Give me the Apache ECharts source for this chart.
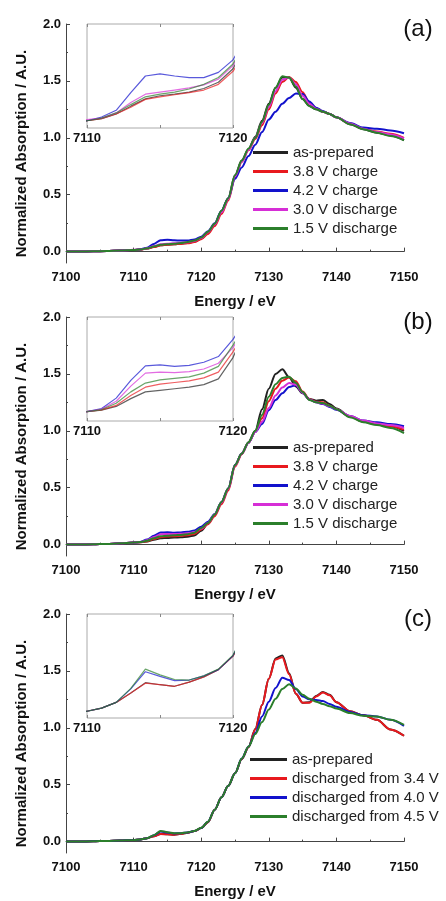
<!DOCTYPE html>
<html>
<head>
<meta charset="utf-8">
<script src="https://cdn.jsdelivr.net/npm/echarts@6/dist/echarts.min.js"></script>
<style>
  html, body { margin: 0; padding: 0; background: #fff; }
  #main { width: 446px; height: 901px; }
</style>
</head>
<body>
<div id="main"></div>
<script>
// energies (eV) shared by every spectrum
var energy = [7100, 7102, 7104, 7106, 7108,
  7110, 7111, 7112, 7113, 7114, 7115, 7116, 7117, 7118, 7119, 7120,
  7121, 7122, 7123, 7124, 7125, 7126, 7127, 7128, 7129, 7130,
  7131, 7132, 7133, 7134, 7135, 7136, 7137, 7138, 7139, 7140,
  7142, 7144, 7146, 7148, 7150];

// (a)
var aBlack = [0, 0.001, 0.003, 0.005, 0.009, 0.014, 0.018, 0.027, 0.042, 0.056, 0.062, 0.065, 0.069, 0.076, 0.088, 0.114,
  0.165, 0.24, 0.355, 0.47, 0.67, 0.80, 0.90, 1.01, 1.15, 1.30, 1.44, 1.53, 1.53, 1.44, 1.34, 1.28, 1.25, 1.23, 1.21, 1.18,
  1.12, 1.075, 1.045, 1.02, 0.98];
var aRed = [0, 0.001, 0.003, 0.005, 0.009, 0.014, 0.018, 0.027, 0.040, 0.055, 0.060, 0.064, 0.068, 0.073, 0.084, 0.109,
  0.155, 0.225, 0.33, 0.45, 0.65, 0.79, 0.89, 0.99, 1.11, 1.25, 1.39, 1.49, 1.535, 1.49, 1.40, 1.31, 1.26, 1.23, 1.21, 1.18,
  1.125, 1.08, 1.055, 1.035, 1.0];
var aBlue = [0, 0.001, 0.003, 0.005, 0.009, 0.014, 0.021, 0.034, 0.068, 0.100, 0.104, 0.100, 0.097, 0.097, 0.107, 0.131,
  0.18, 0.25, 0.36, 0.47, 0.64, 0.74, 0.84, 0.94, 1.05, 1.16, 1.23, 1.30, 1.35, 1.39, 1.385, 1.32, 1.265, 1.235, 1.21, 1.18,
  1.13, 1.09, 1.08, 1.065, 1.04];
var aPink = [0, 0.001, 0.003, 0.005, 0.009, 0.016, 0.019, 0.029, 0.049, 0.065, 0.069, 0.073, 0.077, 0.083, 0.094, 0.120,
  0.17, 0.24, 0.345, 0.46, 0.66, 0.79, 0.895, 1.0, 1.13, 1.27, 1.41, 1.51, 1.53, 1.47, 1.37, 1.30, 1.255, 1.23, 1.21, 1.18,
  1.125, 1.08, 1.05, 1.03, 0.995];
var aGreen = [0, 0.001, 0.003, 0.005, 0.009, 0.014, 0.019, 0.029, 0.045, 0.060, 0.065, 0.069, 0.075, 0.084, 0.097, 0.123,
  0.175, 0.245, 0.36, 0.47, 0.67, 0.80, 0.905, 1.0, 1.14, 1.29, 1.44, 1.54, 1.53, 1.45, 1.34, 1.28, 1.25, 1.23, 1.21, 1.18,
  1.12, 1.075, 1.045, 1.015, 0.978];

// (b)
var bBlack = [0, 0.001, 0.003, 0.006, 0.011, 0.018, 0.021, 0.028, 0.043, 0.056, 0.059, 0.062, 0.065, 0.070, 0.081, 0.122,
  0.185, 0.26, 0.37, 0.49, 0.70, 0.80, 0.90, 1.0, 1.19, 1.37, 1.50, 1.54, 1.47, 1.39, 1.33, 1.28, 1.265, 1.27, 1.235, 1.195,
  1.125, 1.08, 1.06, 1.04, 1.0];
var bRed = [0, 0.001, 0.003, 0.006, 0.011, 0.018, 0.0215, 0.030, 0.049, 0.065, 0.071, 0.074, 0.077, 0.083, 0.094, 0.133,
  0.18, 0.25, 0.355, 0.475, 0.685, 0.795, 0.895, 0.99, 1.11, 1.26, 1.37, 1.44, 1.468, 1.435, 1.345, 1.28, 1.255, 1.25, 1.22, 1.19,
  1.125, 1.08, 1.055, 1.04, 1.01];
var bBlue = [0, 0.001, 0.003, 0.006, 0.011, 0.018, 0.024, 0.044, 0.078, 0.106, 0.108, 0.105, 0.107, 0.113, 0.124, 0.157,
  0.20, 0.27, 0.375, 0.495, 0.70, 0.80, 0.895, 0.99, 1.06, 1.18, 1.27, 1.33, 1.385, 1.40, 1.335, 1.275, 1.25, 1.235, 1.21, 1.185,
  1.13, 1.09, 1.075, 1.06, 1.04];
var bPink = [0, 0.001, 0.003, 0.006, 0.011, 0.018, 0.023, 0.038, 0.067, 0.092, 0.094, 0.093, 0.095, 0.100, 0.111, 0.141,
  0.19, 0.265, 0.37, 0.49, 0.695, 0.80, 0.895, 0.99, 1.08, 1.20, 1.31, 1.38, 1.42, 1.405, 1.335, 1.275, 1.25, 1.24, 1.215, 1.19,
  1.13, 1.09, 1.065, 1.05, 1.025];
var bGreen = [0, 0.001, 0.003, 0.006, 0.011, 0.018, 0.022, 0.034, 0.056, 0.073, 0.079, 0.082, 0.085, 0.092, 0.105, 0.146,
  0.19, 0.265, 0.375, 0.495, 0.70, 0.80, 0.90, 1.0, 1.14, 1.30, 1.41, 1.465, 1.475, 1.42, 1.34, 1.27, 1.25, 1.245, 1.22, 1.19,
  1.12, 1.075, 1.05, 1.025, 0.98];

// (c)
var cBlack = [0, 0.001, 0.003, 0.006, 0.009, 0.013, 0.019, 0.030, 0.048, 0.068, 0.064, 0.061, 0.069, 0.079, 0.093, 0.119,
  0.17, 0.28, 0.39, 0.49, 0.60, 0.725, 0.83, 0.99, 1.20, 1.43, 1.61, 1.635, 1.48, 1.30, 1.22, 1.225, 1.28, 1.315, 1.29, 1.225,
  1.145, 1.11, 1.07, 0.985, 0.93];
var cRed = [0, 0.001, 0.003, 0.006, 0.009, 0.013, 0.019, 0.030, 0.048, 0.067, 0.064, 0.061, 0.069, 0.079, 0.093, 0.119,
  0.17, 0.28, 0.39, 0.49, 0.60, 0.725, 0.83, 0.985, 1.20, 1.43, 1.60, 1.62, 1.47, 1.30, 1.22, 1.22, 1.275, 1.31, 1.285, 1.225,
  1.145, 1.11, 1.07, 0.985, 0.93];
var cBlue = [0, 0.001, 0.003, 0.006, 0.009, 0.013, 0.019, 0.030, 0.056, 0.089, 0.080, 0.072, 0.073, 0.081, 0.093, 0.120,
  0.175, 0.28, 0.39, 0.49, 0.60, 0.73, 0.835, 0.955, 1.10, 1.23, 1.35, 1.44, 1.42, 1.34, 1.275, 1.25, 1.245, 1.235, 1.21, 1.185,
  1.14, 1.11, 1.10, 1.07, 1.017];
var cGreen = [0, 0.001, 0.003, 0.006, 0.009, 0.013, 0.019, 0.030, 0.057, 0.094, 0.083, 0.074, 0.073, 0.081, 0.094, 0.121,
  0.175, 0.28, 0.39, 0.49, 0.60, 0.73, 0.835, 0.945, 1.05, 1.16, 1.255, 1.34, 1.383, 1.345, 1.29, 1.255, 1.23, 1.21, 1.19, 1.17,
  1.13, 1.105, 1.10, 1.07, 1.026];

var abNames = ['as-prepared', '3.8 V charge', '4.2 V charge', '3.0 V discharge', '1.5 V discharge'];
var cNames = ['as-prepared', 'discharged from 3.4 V', 'discharged from 4.0 V', 'discharged from 4.5 V'];
var yTicks = [0, 0.5, 1, 1.5, 2];
var yMinorTicks = [0.25, 0.75, 1.25, 1.75];

var abColors = ['#222222', '#e8191e', '#1212cc', '#d62ed6', '#2b7f2b'];
var cColors = ['#222222', '#e8191e', '#1212cc', '#2b7f2b'];

var panels = [
  { tag: '(a)', top: 24, names: abNames, colors: abColors, values: [aBlack, aRed, aBlue, aPink, aGreen], legLeft: 253, legTop: 145, legW: 35 },
  { tag: '(b)', top: 317, names: abNames, colors: abColors, values: [bBlack, bRed, bBlue, bPink, bGreen], legLeft: 253, legTop: 440, legW: 35 },
  { tag: '(c)', top: 614, names: cNames, colors: cColors, values: [cBlack, cRed, cBlue, cGreen], legLeft: 250, legTop: 752, legW: 37 }
];

var FONT = 'Liberation Sans, Arial, sans-serif';
var AXIS_COLOR = '#444';
var plain = function (v) { return String(v); };

var grid = [], xAxis = [], yAxis = [], series = [], legend = [], graphic = [];

panels.forEach(function (p) {
  var gMain = grid.length;
  grid.push({ left: 66, top: p.top, width: 338, height: 239 });
  var gIn = grid.length;
  grid.push({ left: 87, top: p.top, width: 146, height: 104, show: true, borderColor: '#aaa', borderWidth: 1, backgroundColor: '#fff' });

  var xMain = xAxis.length;
  xAxis.push({
    type: 'value', gridIndex: gMain, min: 7100, max: 7150, interval: 10,
    name: 'Energy / eV', nameLocation: 'middle', nameGap: 31,
    nameTextStyle: { fontFamily: FONT, fontWeight: 'bold', fontSize: 15, color: '#111' },
    axisLine: { lineStyle: { color: AXIS_COLOR, width: 1 } },
    axisTick: { inside: true, length: 4, lineStyle: { color: AXIS_COLOR } },
    minorTick: { show: true, splitNumber: 2, length: 2, lineStyle: { color: AXIS_COLOR } },
    axisLabel: { fontFamily: FONT, fontWeight: 'bold', fontSize: 13, color: '#111', margin: 8, formatter: plain },
    splitLine: { show: false }
  });
  var xIn = xAxis.length;
  xAxis.push({
    type: 'value', gridIndex: gIn, min: 7110, max: 7120, interval: 10,
    axisLine: { show: false },
    axisTick: { inside: true, length: 3, lineStyle: { color: '#888' } },
    minorTick: { show: true, splitNumber: 2, length: 3, lineStyle: { color: '#888' } },
    axisLabel: { fontFamily: FONT, fontWeight: 'bold', fontSize: 13, color: '#111', margin: 4, formatter: plain, showMinLabel: true, showMaxLabel: true },
    splitLine: { show: false }
  });
  xAxis.push({
    type: 'value', gridIndex: gIn, position: 'top', min: 7110, max: 7120, interval: 10,
    axisLine: { show: false },
    axisTick: { inside: true, length: 3, lineStyle: { color: '#888' } },
    minorTick: { show: true, splitNumber: 2, length: 3, lineStyle: { color: '#888' } },
    axisLabel: { show: false },
    splitLine: { show: false }
  });

  var yMain = yAxis.length;
  yAxis.push({
    type: 'value', gridIndex: gMain, min: -0.1, max: 2.0,
    axisLine: { show: true, lineStyle: { color: AXIS_COLOR, width: 1 } },
    axisTick: { show: true, inside: true, length: 4, customValues: yTicks, lineStyle: { color: AXIS_COLOR } },
    axisLabel: {
      customValues: yTicks, fontFamily: FONT, fontWeight: 'bold', fontSize: 13, color: '#111', margin: 5,
      formatter: function (v) { return v.toFixed(1); }
    },
    splitLine: { show: false }
  });
  yAxis.push({
    type: 'value', gridIndex: gMain, min: -0.1, max: 2.0, position: 'left',
    axisLine: { show: false },
    axisTick: { show: true, inside: true, length: 2, customValues: yMinorTicks, lineStyle: { color: AXIS_COLOR } },
    axisLabel: { show: false },
    splitLine: { show: false }
  });
  var yIn = yAxis.length;
  yAxis.push({
    type: 'value', gridIndex: gIn, min: 0, max: 0.2,
    axisLine: { show: false }, axisTick: { show: false }, axisLabel: { show: false }, splitLine: { show: false }
  });

  p.values.forEach(function (vals, i) {
    var pts = energy.map(function (e, j) { return [e, vals[j]]; });
    series.push({
      name: p.names[i], type: 'line', xAxisIndex: xMain, yAxisIndex: yMain,
      data: pts, symbol: 'none', color: p.colors[i], smooth: 0.3, smoothMonotone: 'x',
      lineStyle: { width: 2, color: p.colors[i] }, z: 3 + i
    });
    series.push({
      name: p.names[i], type: 'line', xAxisIndex: xIn, yAxisIndex: yIn,
      data: pts, symbol: 'none', color: p.colors[i],
      lineStyle: { width: 1.2, color: p.colors[i], opacity: 0.7 }, z: 3 + i
    });
  });

  legend.push({
    data: p.names, orient: 'vertical', left: p.legLeft, top: p.legTop,
    padding: 0, itemGap: 4, itemWidth: p.legW, itemHeight: 3, icon: 'rect',
    selectedMode: false,
    textStyle: { fontFamily: FONT, fontSize: 15, color: '#222' }
  });

  graphic.push({
    type: 'text', x: 22, y: p.top + 129.5, rotation: Math.PI / 2,
    style: { text: 'Normalized Absorption / A.U.', font: 'bold 15px ' + FONT, fill: '#111', textAlign: 'center', textVerticalAlign: 'middle' }
  });
  graphic.push({
    type: 'text', x: 418, y: p.top + 5,
    style: { text: p.tag, font: '24px ' + FONT, fill: '#111', textAlign: 'center', textVerticalAlign: 'middle' }
  });
});

var chart = echarts.init(document.getElementById('main'));
chart.setOption({
  animation: false,
  backgroundColor: '#fff',
  grid: grid,
  xAxis: xAxis,
  yAxis: yAxis,
  legend: legend,
  graphic: graphic,
  series: series
});
</script>
</body>
</html>
